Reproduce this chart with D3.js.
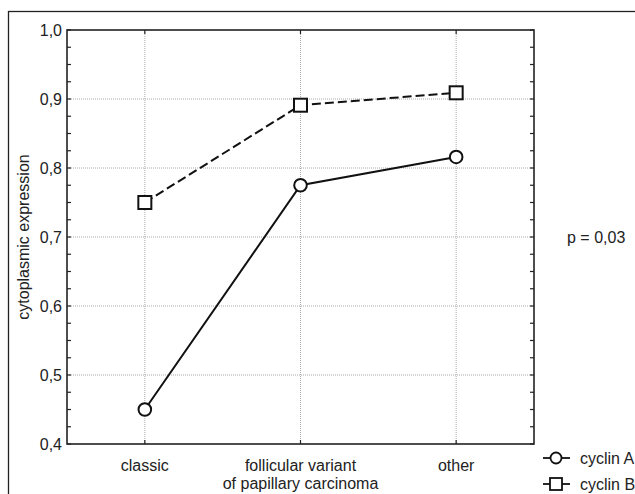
<!DOCTYPE html>
<html><head><meta charset="utf-8">
<script src="https://cdn.jsdelivr.net/npm/d3@7"></script>
<style>
body{margin:0;background:#fff;}
text{font-family:"Liberation Sans",Arial,sans-serif;fill:#222;}
</style></head>
<body>
<svg id="c" width="635" height="494"></svg>
<script>
const categories = ["classic", "follicular variant\nof papillary carcinoma", "other"];
const cyclinA = [0.45, 0.775, 0.816];
const cyclinB = [0.75, 0.891, 0.909];
const yTicks = [0.4, 0.5, 0.6, 0.7, 0.8, 0.9, 1.0];
const yTickLabels = ["0,4", "0,5", "0,6", "0,7", "0,8", "0,9", "1,0"];
const seriesNames = ["cyclin A", "cyclin B"];
const pText = "p = 0,03";
const yLabel = "cytoplasmic expression";

const FS = 16;
const svg = d3.select("#c");
const m = {l:67, t:30, r:534, b:444};
const x = d3.scalePoint().domain(d3.range(categories.length)).range([m.l, m.r]).padding(0.5);
const y = d3.scaleLinear().domain([0.4, 1.0]).range([m.b, m.t]);

// outer frame
svg.append("rect").attr("x",8.5).attr("y",11.5).attr("width",640).attr("height",500)
  .attr("fill","none").attr("stroke","#222").attr("stroke-width",1.3);

// grid
const g = svg.append("g");
g.selectAll(".hg").data(yTicks.slice(1,-1)).join("line")
  .attr("x1",m.l).attr("x2",m.r).attr("y1",d=>y(d)).attr("y2",d=>y(d))
  .attr("stroke","#aaa").attr("stroke-dasharray","1,1").attr("stroke-width",1);
g.selectAll(".vg").data(d3.range(categories.length)).join("line")
  .attr("x1",d=>x(d)).attr("x2",d=>x(d)).attr("y1",m.t).attr("y2",m.b)
  .attr("stroke","#aaa").attr("stroke-dasharray","1,1").attr("stroke-width",1);

// minor ticks (inward) left and right
const minor = d3.range(0.4, 1.0001, 0.025);
svg.append("g").selectAll("line").data(minor).join("line")
  .attr("x1",m.l).attr("x2",m.l+4).attr("y1",d=>y(d)).attr("y2",d=>y(d)).attr("stroke","#222").attr("stroke-width",1.2);
svg.append("g").selectAll("line").data(minor).join("line")
  .attr("x1",m.r).attr("x2",m.r-4).attr("y1",d=>y(d)).attr("y2",d=>y(d)).attr("stroke","#222").attr("stroke-width",1.2);
// category ticks top & bottom
svg.append("g").selectAll("line").data(d3.range(categories.length)).join("line")
  .attr("x1",d=>x(d)).attr("x2",d=>x(d)).attr("y1",m.t).attr("y2",m.t+4).attr("stroke","#222").attr("stroke-width",1.2);
svg.append("g").selectAll("line").data(d3.range(categories.length)).join("line")
  .attr("x1",d=>x(d)).attr("x2",d=>x(d)).attr("y1",m.b).attr("y2",m.b-4).attr("stroke","#222").attr("stroke-width",1.2);

// plot frame
svg.append("rect").attr("x",m.l).attr("y",m.t).attr("width",m.r-m.l).attr("height",m.b-m.t)
  .attr("fill","none").attr("stroke","#222").attr("stroke-width",1.6);

// y axis labels
const yAxis = d3.axisLeft(y).tickValues(yTicks).tickFormat((d,i)=>yTickLabels[i]).tickSize(0).tickPadding(5);
const ya = svg.append("g").attr("transform",`translate(${m.l},0)`).call(yAxis);
ya.select(".domain").remove();
ya.selectAll("text").attr("font-size",FS).style("font-family","Liberation Sans, Arial, sans-serif").attr("fill","#222");

// x axis labels
const xa = svg.append("g");
categories.forEach((c,i)=>{
  const t = xa.append("text").attr("x",x(i)).attr("y",471).attr("text-anchor","middle").attr("font-size",FS);
  c.split("\n").forEach((line,j)=>{
    t.append("tspan").attr("x",x(i)).attr("dy", j===0?0:18).text(line);
  });
});

// y label
svg.append("text").attr("transform",`translate(29,237) rotate(-90)`).attr("text-anchor","middle")
  .attr("font-size",FS).text(yLabel);

// lines
const line = d3.line().x((d,i)=>x(i)).y(d=>y(d));
svg.append("path").datum(cyclinB).attr("d",line).attr("fill","none").attr("stroke","#111")
  .attr("stroke-width",2).attr("stroke-dasharray","9,4");
svg.append("path").datum(cyclinA).attr("d",line).attr("fill","none").attr("stroke","#111").attr("stroke-width",2);

svg.append("g").selectAll("circle").data(cyclinA).join("circle")
  .attr("cx",(d,i)=>x(i)).attr("cy",d=>y(d)).attr("r",6.3).attr("fill","#fff").attr("stroke","#111").attr("stroke-width",2);
svg.append("g").selectAll("rect").data(cyclinB).join("rect")
  .attr("x",(d,i)=>x(i)-6.5).attr("y",d=>y(d)-6.5).attr("width",13).attr("height",13).attr("fill","#fff").attr("stroke","#111").attr("stroke-width",2);

// p value
svg.append("text").attr("x",567).attr("y",243).attr("font-size",FS).text(pText);

// legend
const lg = svg.append("g");
seriesNames.forEach((s,i)=>{
  const yy = 458 + i*26;
  lg.append("line").attr("x1",543).attr("x2",570).attr("y1",yy).attr("y2",yy).attr("stroke","#111").attr("stroke-width",1.8);
  if(i===0) lg.append("circle").attr("cx",556).attr("cy",yy).attr("r",5.5).attr("fill","#fff").attr("stroke","#111").attr("stroke-width",1.8);
  else lg.append("rect").attr("x",550).attr("y",yy-6).attr("width",12).attr("height",12).attr("fill","#fff").attr("stroke","#111").attr("stroke-width",1.8);
  lg.append("text").attr("x",580).attr("y",yy+5.5).attr("font-size",FS).text(s);
});
</script>
</body></html>
